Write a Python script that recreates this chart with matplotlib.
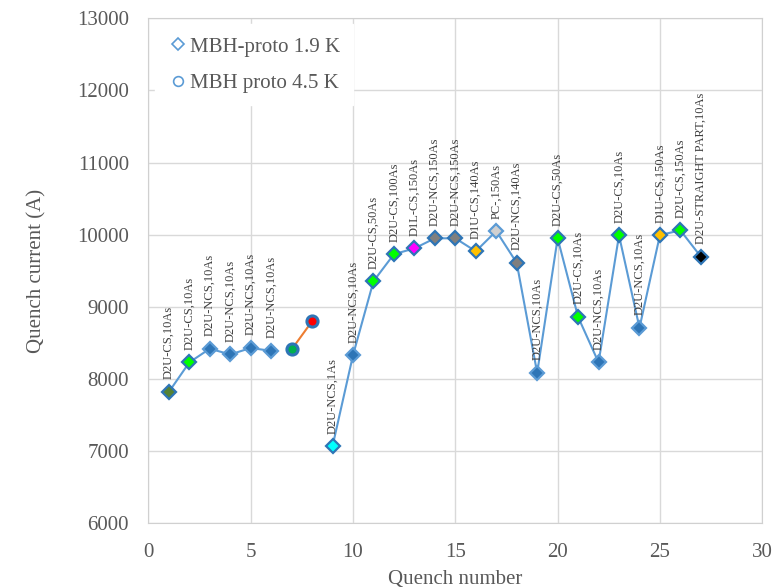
import numpy as np
import matplotlib
matplotlib.use('Agg')
import matplotlib.pyplot as plt
from matplotlib.lines import Line2D

plt.rcParams['font.family'] = ['Liberation Serif', 'DejaVu Serif']

# MBH-proto 1.9 K (quench 7 and 8 were done at 4.5 K)
quench_19K = [1, 2, 3, 4, 5, 6, 9, 10, 11, 12, 13, 14, 15, 16, 17, 18,
              19, 20, 21, 22, 23, 24, 25, 26, 27]
current_19K = [7820, 8230, 8420, 8340, 8430, 8390, 7070, 8330, 9355, 9730,
               9810, 9950, 9950, 9770, 10050, 9610, 8085, 9950, 8860, 8230,
               9990, 8710, 9995, 10060, 9695]
labels_19K = ['D2U-CS,10As', 'D2U-CS,10As', 'D2U-NCS,10As', 'D2U-NCS,10As',
              'D2U-NCS,10As', 'D2U-NCS,10As', 'D2U-NCS,1As', 'D2U-NCS,10As',
              'D2U-CS,50As', 'D2U-CS,100As', 'D1L-CS,150As', 'D2U-NCS,150As',
              'D2U-NCS,150As', 'D1U-CS,140As', 'PC-,150As', 'D2U-NCS,140As',
              'D2U-NCS,10As', 'D2U-CS,50As', 'D2U-CS,10As', 'D2U-NCS,10As',
              'D2U-CS,10As', 'D2U-NCS,10As', 'D1U-CS,150As', 'D2U-CS,150As',
              'D2U-STRAIGHT PART,10As']
colors_19K = ['#548235', '#00ff00', '#2e75b6', '#2e75b6', '#2e75b6', '#2e75b6',
              '#00ffff', '#2e75b6', '#00ff00', '#00ff00', '#ff00ff', '#7f7f7f',
              '#7f7f7f', '#ffc000', '#d0d0d0', '#7f7f7f', '#2e75b6', '#00ff00',
              '#00ff00', '#2e75b6', '#00ff00', '#2e75b6', '#ffc000', '#00ff00',
              '#000000']

# MBH proto 4.5 K
quench_45K = [7, 8]
current_45K = [8410, 8800]
colors_45K = ['#00b050', '#ff0000']

gray = '#595959'
lineblue = '#5b9bd5'
edgeblue = '#2e75b6'

fig = plt.figure(figsize=(7.81, 5.88), dpi=100)
ax = fig.add_axes([0.19, 0.11, 0.786, 0.859])

# split line where the 4.5 K points are
q = np.array(quench_19K)
c = np.array(current_19K, dtype=float)
part1 = q <= 6
ax.plot(q[part1], c[part1], '-', color=lineblue, lw=1.5, zorder=2)
ax.plot(q[~part1], c[~part1], '-', color=lineblue, lw=1.5, zorder=2)
ax.plot(quench_45K, current_45K, '-', color='#ed7d31', lw=1.5, zorder=2)

for xi, yi, col in zip(quench_19K, current_19K, colors_19K):
    ec = lineblue if col in ('#2e75b6', '#d0d0d0') else edgeblue
    ax.plot(xi, yi, 'D', ms=7, mfc=col, mec=ec, mew=1.6, zorder=3)

for xi, yi, col in zip(quench_45K, current_45K, colors_45K):
    ax.plot(xi, yi, 'o', ms=8, mfc=col, mec=edgeblue, mew=2.2, zorder=3)

for xi, yi, txt in zip(quench_19K, current_19K, labels_19K):
    ax.annotate(txt, (xi, yi), xytext=(0, 9), textcoords='offset points',
                rotation=90, ha='center', va='bottom', fontsize=9, color='#404040')

ax.set_xlim(0, 30)
ax.set_ylim(6000, 13000)
ax.set_xticks(np.arange(0, 31, 5))
ax.set_yticks(np.arange(6000, 13001, 1000))
ax.grid(True, color='#d9d9d9', lw=1)
ax.set_axisbelow(True)
for s in ax.spines.values():
    s.set_color('#d0d0d0')
ax.tick_params(length=0, pad=14, labelsize=15, labelcolor=gray)
ax.set_xlabel('Quench number', fontsize=15, color=gray, labelpad=6)
ax.set_ylabel('Quench current (A)', fontsize=15, color=gray, labelpad=22)

handles = [Line2D([], [], ls='none', marker='D', ms=6, mfc='white', mec=lineblue, mew=1.2),
           Line2D([], [], ls='none', marker='o', ms=7, mfc='white', mec=lineblue, mew=1.2)]
leg = ax.legend(handles, ['MBH-proto 1.9 K', 'MBH proto 4.5 K'], loc='upper left',
                bbox_to_anchor=(0, 1), borderaxespad=0.3, fontsize=15, frameon=True,
                framealpha=1, edgecolor='white', fancybox=False, handletextpad=0.1,
                handlelength=1.0, labelspacing=0.8, borderpad=0.6)
for t in leg.get_texts():
    t.set_color(gray)

fig.savefig('out.png', dpi=100)
